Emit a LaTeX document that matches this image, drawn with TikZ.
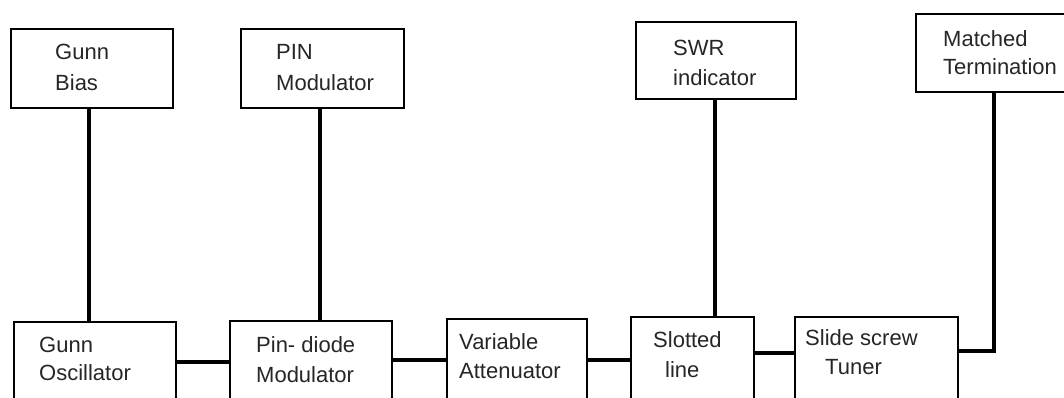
\documentclass[tikz,border=0pt]{standalone}
\usepackage{fontspec}
\setmainfont{Liberation Sans}
\usetikzlibrary{calc}
\begin{document}
\begin{tikzpicture}[x=1pt,y=-1pt,
  box/.style={draw=black, line width=2pt, fill=white, outer sep=0pt, inner sep=0pt, anchor=north west},
  lbl/.style={anchor=west, align=left, inner sep=0pt, text=black!85},
  ls/.style={font=\fontsize{22}{#1}\selectfont},
  wire/.style={line width=3.2pt, line cap=butt}]
\useasboundingbox (0,0) rectangle (1064,397);
\clip (0,0) rectangle (1064,397);

% upper row: supplies, indicator, load
\node[box, minimum width=162pt, minimum height=79pt] (gb)  at (11,29)  {};
\node[box, minimum width=163pt, minimum height=79pt] (pm)  at (241,29) {};
\node[box, minimum width=160pt, minimum height=77pt] (swr) at (636,22) {};
\node[box, minimum width=170pt, minimum height=78pt] (mt)  at (916,14) {};

% lower row: microwave bench
\node[box, minimum width=162pt, minimum height=90pt] (go) at (14,322)  {};
\node[box, minimum width=162pt, minimum height=90pt] (pd) at (230,321) {};
\node[box, minimum width=140pt, minimum height=90pt] (va) at (447,319) {};
\node[box, minimum width=123pt, minimum height=90pt] (sl) at (631,317) {};
\node[box, minimum width=163pt, minimum height=90pt] (sd) at (795,317) {};

% labels
\node[lbl, ls=31] (gbt)  at (55,67.5)  {Gunn\\Bias};
\node[lbl, ls=31] (pmt)  at (276,67.5) {PIN\\Modulator};
\node[lbl, ls=30] (swrt) at (673,63)   {SWR\\indicator};
\node[lbl, ls=28] (mtt)  at (943,53)   {Matched\\Termination};
\node[lbl, ls=28] (got)  at (39,359)   {Gunn\\Oscillator};
\node[lbl, ls=30] (pdt)  at (256,360)  {Pin- diode\\Modulator};
\node[lbl, ls=29] (vat)  at (459,356.5) {Variable\\Attenuator};
\node[lbl, ls=30] (slt)  at (653,355)  {Slotted\\\hspace*{12pt}line};
\node[lbl, ls=29] (sdt)  at (805,352.5) {Slide screw\\\hspace*{20pt}Tuner};

% vertical feeds
\coordinate (gbs)  at ($(gb.south west)+(78,0)$);
\coordinate (pms)  at ($(pm.south west)+(79,0)$);
\coordinate (swrs) at ($(swr.south west)+(79,0)$);
\coordinate (mts)  at ($(mt.south west)+(78,0)$);
\draw[wire] (gbs) -- (gbs |- go.north);
\draw[wire] (pms) -- (pms |- pd.north);
\draw[wire] (swrs) -- (swrs |- sl.north);
\coordinate (sdo) at ($(sd.north east)+(0,34)$);
\draw[wire] (mts) |- (sdo);

% bench links
\coordinate (goe) at ($(go.north east)+(0,40)$);
\coordinate (pde) at ($(pd.north east)+(0,39)$);
\coordinate (vae) at ($(va.north east)+(0,41)$);
\coordinate (sle) at ($(sl.north east)+(0,36)$);
\draw[wire] (goe) -- (goe -| pd.west);
\draw[wire] (pde) -- (pde -| va.west);
\draw[wire] (vae) -- (vae -| sl.west);
\draw[wire] (sle) -- (sle -| sd.west);
\end{tikzpicture}
\end{document}
